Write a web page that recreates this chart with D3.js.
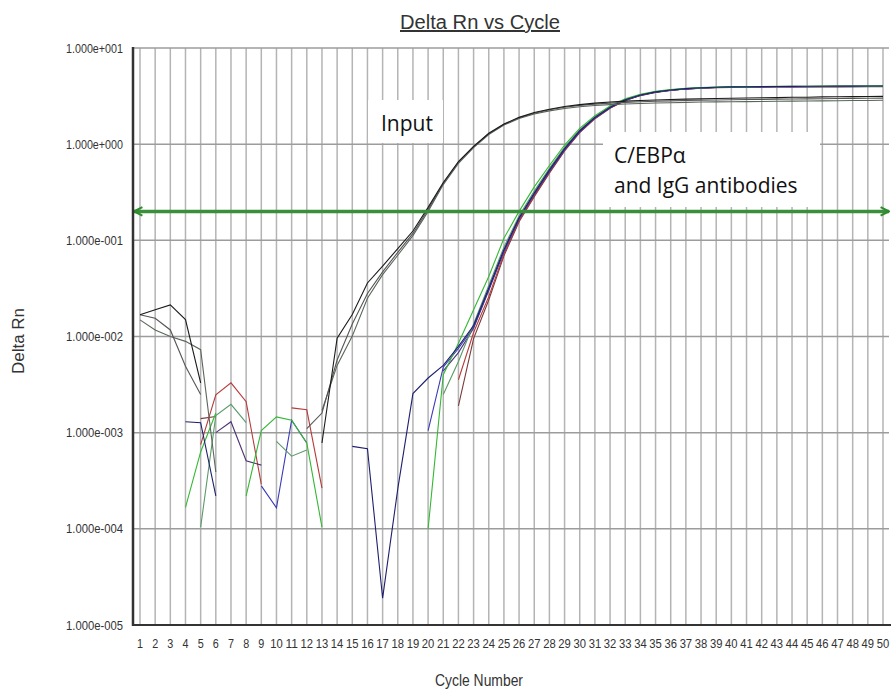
<!DOCTYPE html>
<html>
<head>
<meta charset="utf-8">
<script src="https://cdn.jsdelivr.net/npm/d3@7"></script>
<style>
  body { margin: 0; background: #fff; }
  svg { display: block; }
  .tick-text { font-family: "Liberation Sans Narrow", "Liberation Sans", Arial, sans-serif; fill: #333; }
  .note { font-family: "Open Sans", "Noto Sans", sans-serif; fill: #111; }
</style>
</head>
<body>
<div id="chart"></div>
<script>
const width = 891, height = 693;

// cycle numbers 1..50
const cycles = d3.range(1, 51);
const yTicks = [1e-5, 1e-4, 1e-3, 1e-2, 1e-1, 1, 10];
const threshold = 0.2;

// Input samples (null = no value drawn on the log scale)
const input1 = [0.0168, 0.019, 0.0213, 0.015, 0.0033, null, null, null, null, null,
  null, null, 0.00078, 0.0096, 0.0169, 0.036, 0.054, 0.082, 0.125, 0.22,
  0.40, 0.66, 0.95, 1.30, 1.62, 1.90, 2.13, 2.31, 2.46, 2.58,
  2.67, 2.74, 2.80, 2.84, 2.88, 2.91, 2.94, 2.96, 2.98, 3.00,
  3.02, 3.04, 3.05, 3.07, 3.08, 3.10, 3.11, 3.12, 3.13, 3.14];
const input2 = [0.0168, 0.0155, 0.0117, 0.0049, 0.0025, null, null, null, null, null,
  null, 0.0011, 0.0016, 0.0057, 0.0135, 0.028, 0.047, 0.075, 0.118, 0.21,
  0.39, 0.65, 0.94, 1.28, 1.60, 1.88, 2.10, 2.28, 2.42, 2.53,
  2.61, 2.67, 2.72, 2.76, 2.79, 2.82, 2.84, 2.86, 2.88, 2.90,
  2.91, 2.92, 2.94, 2.95, 2.96, 2.97, 2.98, 2.99, 3.00, 3.01];
const input3 = [0.0149, 0.0117, 0.0100, 0.0089, 0.0073, 0.00039, null, null, null, null,
  null, null, 0.0017, 0.0050, 0.0101, 0.025, 0.044, 0.070, 0.112, 0.20,
  0.38, 0.63, 0.92, 1.26, 1.58, 1.85, 2.06, 2.22, 2.35, 2.45,
  2.52, 2.58, 2.62, 2.65, 2.68, 2.70, 2.72, 2.74, 2.75, 2.76,
  2.77, 2.78, 2.79, 2.80, 2.81, 2.82, 2.83, 2.84, 2.85, 2.86];

// C/EBPa and IgG samples
const navy = [null, null, null, 0.0013, 0.00127, 0.00022, null, null, null, null,
  null, null, null, null, 0.00072, 0.00068, 0.000019, 0.00026, 0.00255, 0.0037,
  0.0050, 0.0079, 0.013, 0.032, 0.080, 0.172, 0.31, 0.54, 0.90, 1.38,
  1.90, 2.42, 2.90, 3.25, 3.50, 3.66, 3.78, 3.86, 3.91, 3.94,
  3.96, 3.97, 3.98, 3.99, 4.00, 4.00, 4.01, 4.01, 4.02, 4.02];
const blue = [null, null, null, null, null, null, null, null, 0.00028, 0.000165,
  0.00135, 0.00078, null, null, null, null, null, null, null, 0.00105,
  0.0048, 0.0075, 0.0125, 0.031, 0.078, 0.170, 0.305, 0.53, 0.88, 1.36,
  1.88, 2.40, 2.88, 3.23, 3.48, 3.64, 3.76, 3.84, 3.89, 3.92,
  3.94, 3.95, 3.96, 3.97, 3.97, 3.98, 3.98, 3.99, 3.99, 4.00];
const purple = [null, null, null, null, null, 0.0010, 0.0013, 0.00051, 0.00046, null,
  null, null, null, null, null, null, null, null, null, null,
  0.0044, 0.0068, 0.0122, 0.030, 0.076, 0.166, 0.30, 0.52, 0.87, 1.35,
  1.87, 2.39, 2.87, 3.22, 3.47, 3.63, 3.75, 3.83, 3.88, 3.91,
  3.93, 3.94, 3.95, 3.95, 3.96, 3.96, 3.97, 3.97, 3.98, 3.98];
const greenA = [null, null, null, 0.000167, 0.00063, 0.0016, null, 0.00022, 0.00105, 0.00146,
  0.00135, 0.00078, 0.000104, null, null, null, null, null, null, 0.0001,
  0.0040, 0.0085, 0.019, 0.042, 0.105, 0.20, 0.36, 0.60, 0.98, 1.46,
  1.98, 2.50, 2.96, 3.30, 3.54, 3.70, 3.80, 3.87, 3.92, 3.95,
  3.97, 3.98, 3.99, 4.00, 4.00, 4.01, 4.01, 4.02, 4.02, 4.03];
const greenB = [null, null, null, null, 0.000104, 0.00151, 0.00197, 0.00127, null, 0.00081,
  0.00057, 0.00066, null, null, null, null, null, null, null, null,
  0.0025, 0.0055, 0.0135, 0.034, 0.085, 0.18, 0.325, 0.56, 0.93, 1.41,
  1.93, 2.45, 2.92, 3.27, 3.51, 3.67, 3.79, 3.86, 3.91, 3.94,
  3.95, 3.96, 3.97, 3.98, 3.98, 3.99, 3.99, 4.00, 4.00, 4.01];
const red = [null, null, null, null, 0.00075, 0.00247, 0.0033, 0.0021, 0.00029, null,
  0.00181, 0.00173, 0.000265, null, null, null, null, null, null, null,
  null, 0.00355, 0.011, 0.026, 0.072, 0.160, 0.29, 0.51, 0.86, 1.33,
  1.85, 2.37, 2.85, 3.21, 3.46, 3.63, 3.75, 3.83, 3.88, 3.91,
  3.93, 3.94, 3.95, 3.96, 3.96, 3.97, 3.97, 3.98, 3.98, 3.99];
const maroon = [null, null, null, null, 0.0014, 0.00147, null, null, null, null,
  null, null, null, null, null, null, null, null, null, null,
  null, 0.0019, 0.0095, 0.024, 0.069, 0.156, 0.285, 0.50, 0.85, 1.32,
  1.84, 2.36, 2.84, 3.20, 3.45, 3.62, 3.74, 3.82, 3.87, 3.90,
  3.92, 3.93, 3.94, 3.94, 3.95, 3.95, 3.96, 3.96, 3.97, 3.97];

const series = [
  { values: maroon, color: '#7a3a3a' },
  { values: red, color: '#b83a3a' },
  { values: purple, color: '#4e3478' },
  { values: blue, color: '#3a3ab8' },
  { values: greenB, color: '#5a9a68' },
  { values: greenA, color: '#33b833' },
  { values: navy, color: '#1f1f6e' },
  { values: input3, color: '#5a665a' },
  { values: input2, color: '#555555' },
  { values: input1, color: '#1a1a1a' }
];

const plotLeft = 133, plotRight = 889, plotTop = 48, plotBottom = 625;

const x = d3.scaleLinear().domain([1, 50]).range([140, 883]);
const y = d3.scaleLog().domain([1e-5, 10]).range([plotBottom, plotTop]);

const fmtExp = (v) => {
  const e = Math.round(Math.log10(v));
  const sign = e < 0 ? '-' : '+';
  return '1.000e' + sign + String(Math.abs(e)).padStart(3, '0');
};

const svg = d3.select('#chart')
  .append('svg')
  .attr('width', width)
  .attr('height', height);

// grid
svg.append('g')
  .selectAll('line')
  .data(cycles)
  .enter()
  .append('line')
  .attr('x1', (d) => x(d)).attr('x2', (d) => x(d))
  .attr('y1', plotTop).attr('y2', plotBottom)
  .attr('stroke', '#b4b4b4')
  .attr('stroke-width', 1.5);

svg.append('g')
  .selectAll('line')
  .data(yTicks.slice(1))
  .enter()
  .append('line')
  .attr('x1', plotLeft).attr('x2', plotRight)
  .attr('y1', (d) => y(d)).attr('y2', (d) => y(d))
  .attr('stroke', '#9c9c9c')
  .attr('stroke-width', 1.5);

// white label boxes
svg.append('rect').attr('x', 368).attr('y', 100).attr('width', 75).attr('height', 43).attr('fill', '#fff');
svg.append('rect').attr('x', 603).attr('y', 132).attr('width', 217).attr('height', 75).attr('fill', '#fff');

svg.append('text').attr('class', 'note').attr('x', 381).attr('y', 131)
  .attr('font-size', 21).text('Input');
svg.append('text').attr('class', 'note').attr('x', 614).attr('y', 163)
  .attr('font-size', 21).text('C/EBPα');
svg.append('text').attr('class', 'note').attr('x', 614).attr('y', 193)
  .attr('font-size', 21).text('and IgG antibodies');

// curves
const line = d3.line()
  .defined((d) => d != null)
  .x((d, i) => x(cycles[i]))
  .y((d) => y(d));

svg.append('g')
  .selectAll('path')
  .data(series)
  .enter()
  .append('path')
  .attr('d', (d) => line(d.values))
  .attr('fill', 'none')
  .attr('stroke', (d) => d.color)
  .attr('stroke-width', 1.1);

// threshold with arrow heads
const defs = svg.append('defs');
defs.append('marker').attr('id', 'arrR')
  .attr('viewBox', '0 0 10 10').attr('refX', 9).attr('refY', 5)
  .attr('markerWidth', 3).attr('markerHeight', 3).attr('orient', 'auto')
  .append('path').attr('d', 'M1,1 L9,5 L1,9').attr('fill', 'none')
  .attr('stroke', '#2f8a2f').attr('stroke-width', 2);
defs.append('marker').attr('id', 'arrL')
  .attr('viewBox', '0 0 10 10').attr('refX', 1).attr('refY', 5)
  .attr('markerWidth', 3).attr('markerHeight', 3).attr('orient', 'auto')
  .append('path').attr('d', 'M9,1 L1,5 L9,9').attr('fill', 'none')
  .attr('stroke', '#2f8a2f').attr('stroke-width', 2);

svg.append('line')
  .attr('x1', plotLeft + 1).attr('x2', plotRight)
  .attr('y1', y(threshold)).attr('y2', y(threshold))
  .attr('stroke', '#3a8f3a')
  .attr('stroke-width', 3.5)
  .attr('marker-start', 'url(#arrL)')
  .attr('marker-end', 'url(#arrR)');

// axes lines
svg.append('line').attr('x1', plotLeft).attr('x2', plotLeft).attr('y1', plotTop - 1).attr('y2', plotBottom + 1)
  .attr('stroke', '#333').attr('stroke-width', 2.5);
svg.append('line').attr('x1', plotLeft).attr('x2', width).attr('y1', plotBottom).attr('y2', plotBottom)
  .attr('stroke', '#333').attr('stroke-width', 2);

// tick labels
svg.append('g')
  .selectAll('text')
  .data(yTicks)
  .enter()
  .append('text')
  .attr('class', 'tick-text')
  .attr('x', 123)
  .attr('y', (d) => y(d) + 4.5)
  .attr('text-anchor', 'end')
  .attr('font-size', 13)
  .attr('textLength', 57)
  .attr('lengthAdjust', 'spacingAndGlyphs')
  .text(fmtExp);

svg.append('g')
  .selectAll('text')
  .data(cycles)
  .enter()
  .append('text')
  .attr('class', 'tick-text')
  .attr('x', (d) => x(d))
  .attr('y', 648)
  .attr('text-anchor', 'middle')
  .attr('font-size', 12.5)
  .attr('textLength', (d) => d < 10 ? 6 : 12.5)
  .attr('lengthAdjust', 'spacingAndGlyphs')
  .text((d) => d);

// titles
svg.append('text').attr('class', 'tick-text')
  .attr('x', 480).attr('y', 29)
  .attr('text-anchor', 'middle')
  .attr('font-size', 20)
  .attr('fill', '#111')
  .attr('text-decoration', 'underline')
  .attr('textLength', 160)
  .attr('lengthAdjust', 'spacingAndGlyphs')
  .text('Delta Rn vs Cycle');

svg.append('text').attr('class', 'tick-text')
  .attr('x', 479).attr('y', 686)
  .attr('text-anchor', 'middle')
  .attr('font-size', 16)
  .attr('textLength', 88)
  .attr('lengthAdjust', 'spacingAndGlyphs')
  .text('Cycle Number');

svg.append('text').attr('class', 'tick-text')
  .attr('transform', 'translate(24,341) rotate(-90)')
  .attr('text-anchor', 'middle')
  .attr('font-size', 16)
  .attr('textLength', 66)
  .attr('lengthAdjust', 'spacingAndGlyphs')
  .text('Delta Rn');
</script>
</body>
</html>
